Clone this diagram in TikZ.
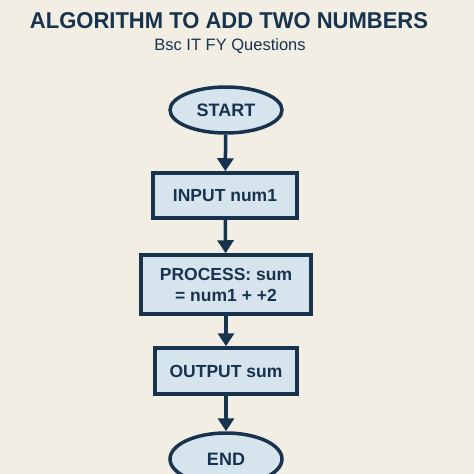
\documentclass[tikz,border=0pt]{standalone}
\usepackage{fontspec}
\setmainfont{Liberation Sans}
\usetikzlibrary{shapes.geometric,arrows.meta}
\definecolor{bg}{HTML}{F3EEE4}
\definecolor{ink}{HTML}{17334D}
\definecolor{boxfill}{HTML}{D6E4EE}
\begin{document}
\begin{tikzpicture}[x=1pt,y=-1pt,
  term/.style={ellipse,draw=ink,fill=boxfill,line width=3.5pt,minimum width=112pt,minimum height=46pt,inner sep=0pt,font=\bfseries\fontsize{18}{20}\selectfont,text=ink},
  procbox/.style={rectangle,draw=ink,fill=boxfill,line width=3.5pt,inner sep=0pt,font=\bfseries\fontsize{17.5}{21}\selectfont,text=ink,align=center},
  flow/.style={draw=ink,line width=3.5pt,-{Triangle[length=13pt,width=16pt]}}]
\fill[bg] (0,0) rectangle (474,474);
\useasboundingbox (0,0) rectangle (474,474);
\node[text=ink,font=\bfseries\fontsize{23}{26}\selectfont] (title) at (229,21) {\resizebox{398pt}{16pt}{ALGORITHM TO ADD TWO NUMBERS}};
\node[text=ink,font=\fontsize{16.5}{19}\selectfont] (sub) at (230,46) {Bsc IT FY Questions};
\node[term] (start) at (226,110) {START};
\node[procbox,minimum width=144pt,minimum height=45pt] (input) at (225,195.5) {INPUT num1};
\node[procbox,minimum width=170pt,minimum height=59pt] (proc) at (226,284.5) {PROCESS: sum\\= num1 + +2};
\node[procbox,minimum width=142pt,minimum height=46pt] (out) at (226,371) {OUTPUT sum};
\node[term,minimum height=52pt] (end) at (226,459) {END};
\draw[flow] (start) -- (input);
\draw[flow] (input) -- (proc);
\draw[flow] (proc) -- (out);
\draw[flow] (out) -- (end);
\end{tikzpicture}
\end{document}
